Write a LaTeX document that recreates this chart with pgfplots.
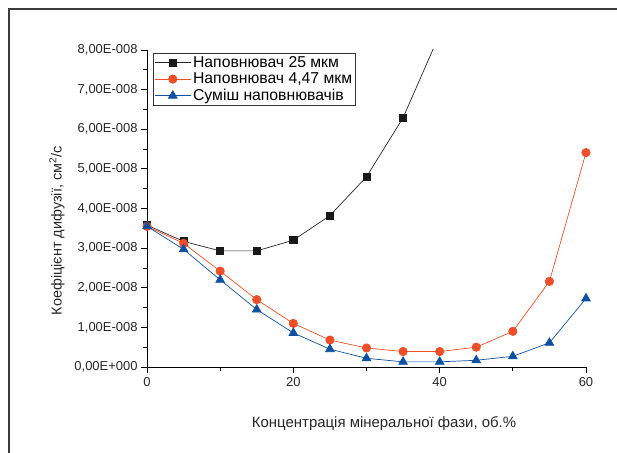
\documentclass[border=0pt]{standalone}
\usepackage{fontspec}
\setmainfont{Liberation Sans}
\usepackage{pgfplots}
\pgfplotsset{compat=1.18}
\definecolor{cred}{RGB}{238,78,40}
\definecolor{cblue}{RGB}{14,80,162}
\definecolor{cframe}{RGB}{60,60,60}
\begin{document}
\begin{tikzpicture}
\useasboundingbox (-147bp,-86bp) rectangle (470bp,367bp);
\begin{axis}[
  at={(0,0)}, anchor=south west,
  scale only axis, width=439bp, height=317bp,
  xmin=0, xmax=60, ymin=0, ymax=8,
  axis x line*=bottom, axis y line*=left,
  axis line style={black, line width=0.8pt},
  xtick={0,20,40,60}, minor xtick={10,30,50},
  ytick={0,1,2,3,4,5,6,7,8}, minor ytick={0.5,1.5,2.5,3.5,4.5,5.5,6.5,7.5},
  yticklabels={{0,00E+000},{1,00E-008},{2,00E-008},{3,00E-008},{4,00E-008},{5,00E-008},{6,00E-008},{7,00E-008},{8,00E-008}},
  tick align=outside,
  major tick length=6bp, minor tick length=4bp,
  tick style={black, line width=0.8pt},
  /pgf/number format/assume math mode=true,
  ticklabel style={font=\fontsize{13}{15}\selectfont, text=black!85},
  xticklabel style={yshift=-1bp},
  xlabel={Концентрація мінеральної фази, об.\%},
  ylabel={Коефіцієнт дифузії, см\textsuperscript{2}/с},
  xlabel style={font=\fontsize{15}{17}\selectfont, text=black!85, at={(axis description cs:0.54,-0.177)}, anchor=center},
  ylabel style={font=\fontsize{14.5}{16}\selectfont, text=black!85, at={(axis description cs:-0.205,0.43)}, anchor=center},
  legend style={at={(axis description cs:0.014,0.99)}, anchor=north west,
    draw=black!80, line width=0.6pt, font=\fontsize{15.8}{18}\selectfont,
    inner sep=1pt, row sep=0pt, cells={anchor=west}},
  legend cell align=left,
  legend image code/.code={\draw[mark repeat=2,mark phase=2] plot coordinates {(0bp,0bp) (18bp,0bp) (36bp,0bp)};},
  clip=true,
]
\addplot[black!85, line width=0.7pt, mark=square*, mark size=3.6bp, mark options={fill=black!90, draw=black!90}]
  coordinates {(0,3.58) (5,3.17) (10,2.93) (15,2.93) (20,3.20) (25,3.82) (30,4.80) (35,6.29) (40,8.40)};
\addlegendentry{Наповнювач 25 мкм}
\addplot[cred, line width=0.7pt, mark=*, mark size=4.2bp, mark options={fill=cred, draw=cred}]
  coordinates {(0,3.55) (5,3.12) (10,2.42) (15,1.70) (20,1.10) (25,0.68) (30,0.48) (35,0.39) (40,0.39) (45,0.50) (50,0.90) (55,2.16) (60,5.41)};
\addlegendentry{Наповнювач 4,47 мкм}
\addplot[cblue, line width=0.7pt, mark=triangle*, mark size=5bp, mark options={fill=cblue, draw=cblue}]
  coordinates {(0,3.55) (5,2.97) (10,2.20) (15,1.45) (20,0.86) (25,0.45) (30,0.22) (35,0.13) (40,0.13) (45,0.17) (50,0.27) (55,0.61) (60,1.73)};
\addlegendentry{Суміш наповнювачів}
\end{axis}
\draw[cframe, line width=1.2bp] (-138bp,-86bp) -- (-138bp,358bp) -- (470bp,358bp);
\end{tikzpicture}
\end{document}
